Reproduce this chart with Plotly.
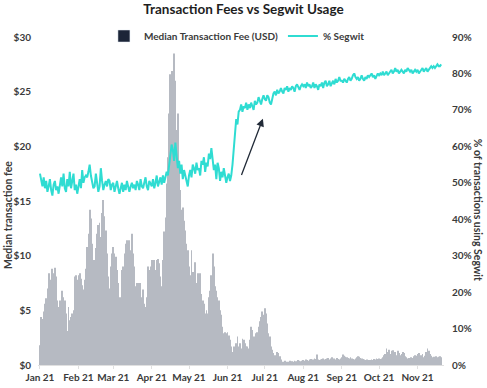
import pandas as pd
import plotly.graph_objects as go

# ---------------- data ----------------
start_date = "2021-01-01"

fee_jan = [1.8, 4.4, 4.2, 4.9, 5.6, 6.1, 7.0, 8.4, 7.2, 7.8, 8.8, 8.4, 8.9, 8.1, 5.9, 5.3,
           5.9, 5.6, 6.8, 6.2, 5.9, 4.7, 3.1, 5.3, 4.1, 4.4, 4.7, 5.0, 8.1, 8.2, 7.8]
fee_feb = [8.2, 8.4, 7.9, 7.3, 6.9, 7.8, 8.8, 10.8, 12.0, 14.2, 13.4, 11.1, 9.6, 9.6,
           10.7, 12.0, 12.8, 13.0, 11.7, 13.9, 15.1, 13.6, 12.3, 10.2, 8.1, 7.0, 9.0, 10.2]
fee_mar = [10.8, 10.2, 9.9, 8.7, 7.5, 6.2, 6.2, 8.7, 9.0, 10.2, 11.1, 11.4, 10.2, 11.4,
           10.5, 12.0, 10.2, 9.0, 7.2, 7.5, 6.6, 7.5, 7.5, 6.2, 6.9, 5.6, 5.3, 6.2, 9.0, 8.7, 9.0]
fee_apr = [9.6, 9.3, 9.6, 8.7, 9.6, 9.7, 9.3, 8.1, 7.2, 9.6, 12.2, 13.5, 16.6, 19.0, 23.0,
           26.6, 26.9, 22.0, 28.5, 26.0, 21.5, 23.0, 17.8, 16.0, 14.2, 14.4, 13.2, 12.3, 11.1, 10.5]
fee_may = [9.0, 8.2, 10.5, 8.5, 8.1, 9.4, 7.5, 8.4, 8.1, 8.4, 6.5, 5.9, 5.6, 4.7, 5.0, 4.7,
           6.2, 6.8, 8.2, 10.2, 9.0, 7.2, 6.8, 6.2, 5.9, 5.0, 4.6, 3.5, 2.9, 3.0, 2.9]
fee_jun = [3.0, 2.7, 2.3, 1.7, 1.2, 1.7, 1.2, 2.0, 2.6, 1.7, 2.0, 1.5, 2.4, 2.3, 2.0, 1.7,
           1.7, 1.5, 2.3, 3.5, 3.2, 2.6, 2.3, 2.9, 3.0, 3.5, 4.0, 4.4, 4.9, 4.6]
fee_jul = [5.2, 4.7, 3.8, 2.9, 2.6, 1.7, 1.4, 1.1, 0.9, 0.8, 1.2, 1.1, 0.8, 0.5, 0.3, 0.3,
           0.4, 0.3, 0.25, 0.3, 0.4, 0.3, 0.35, 0.3, 0.4, 0.35, 0.3, 0.45, 0.4, 0.35, 0.4]
fee_aug = [0.45, 0.4, 0.5, 0.45, 0.4, 0.5, 0.55, 0.45, 0.5, 0.6, 0.55, 0.95, 0.5, 0.45, 0.5,
           0.55, 0.6, 0.5, 0.55, 0.6, 0.65, 0.5, 0.6, 0.7, 0.55, 0.6, 0.5, 0.65, 0.55, 0.5, 0.6]
fee_sep = [0.7, 0.95, 0.85, 0.75, 0.7, 0.65, 0.6, 0.7, 0.6, 0.55, 0.5, 0.6, 0.7, 0.8, 0.75,
           0.65, 0.6, 0.55, 0.5, 0.45, 0.5, 0.45, 0.4, 0.45, 0.5, 0.45, 0.55, 0.5, 0.6, 0.55]
fee_oct = [0.6, 0.55, 0.6, 0.7, 0.9, 1.0, 1.5, 1.2, 1.4, 1.0, 1.3, 1.35, 1.1, 1.2, 0.9, 1.3,
           1.1, 0.9, 1.0, 1.2, 1.1, 0.8, 0.7, 0.6, 0.65, 0.6, 0.7, 0.65, 0.8, 0.9, 0.85]
fee_nov = [1.0, 1.1, 0.8, 0.9, 1.0, 0.7, 0.85, 1.2, 1.5, 1.3, 1.0, 0.85, 0.7, 0.75, 0.7,
           0.8, 0.7, 0.75, 0.8, 0.7]

sw_jan = [52.5, 50.0, 49.0, 51.5, 48.5, 50.5, 47.5, 49.0, 51.0, 48.0, 46.5, 49.5, 50.5, 48.0,
          49.0, 47.0, 50.0, 51.5, 49.0, 52.5, 48.5, 47.5, 51.0, 49.0, 53.0, 48.5, 50.5, 52.5,
          48.0, 49.5, 47.0]
sw_feb = [49.5, 51.0, 48.5, 53.5, 50.0, 51.5, 52.0, 51.5, 53.0, 55.0, 52.0, 50.0, 48.5, 49.0,
          52.5, 50.0, 47.5, 49.0, 54.0, 50.5, 48.0, 49.5, 50.5, 49.0, 51.0, 50.5, 48.0, 49.5]
sw_mar = [50.0, 47.5, 49.0, 50.5, 48.5, 47.0, 48.5, 50.0, 47.5, 49.5, 48.0, 50.5, 49.0, 47.5,
          49.0, 50.0, 48.5, 49.5, 48.0, 50.5, 49.5, 48.0, 51.0, 49.0, 48.5, 50.0, 51.5, 49.0,
          48.0, 50.5, 49.5]
sw_apr = [49.0, 51.0, 48.5, 50.0, 52.0, 49.0, 50.5, 51.5, 49.5, 52.0, 50.0, 51.5, 53.0, 52.0,
          55.0, 58.5, 60.5, 59.0, 56.0, 61.0, 57.5, 54.0, 56.0, 52.5, 55.0, 51.0, 53.5, 52.0,
          50.5, 49.0]
sw_may = [52.0, 53.5, 51.5, 55.0, 54.0, 52.5, 55.5, 53.5, 54.0, 52.0, 56.0, 55.0, 57.0, 53.0,
          55.5, 54.5, 58.0, 56.5, 59.5, 57.0, 53.5, 55.0, 51.0, 55.5, 54.0, 50.5, 53.0, 51.5,
          54.0, 52.0, 50.0]
sw_jun = [51.5, 52.5, 50.5, 52.0, 55.0, 60.0, 64.0, 67.5, 66.0, 69.5, 70.0, 71.5, 69.5, 71.0,
          70.5, 72.0, 70.0, 71.5, 70.5, 72.0, 71.0, 70.0, 72.5, 71.5, 72.0, 73.5, 72.5, 71.5,
          73.0, 74.0]
sw_jul = [73.0, 72.5, 74.0, 73.5, 72.0, 71.5, 73.0, 74.5, 75.0, 74.0, 75.5, 74.5, 75.0, 76.0,
          75.0, 74.5, 76.0, 75.5, 76.5, 75.0, 76.0, 75.5, 76.5, 76.0, 75.0, 76.5, 77.0, 76.0,
          75.5, 76.5, 77.0]
sw_aug = [76.5, 77.0, 76.0, 77.5, 76.5, 77.0, 76.0, 76.5, 77.5, 76.0, 77.0, 76.5, 75.5, 77.0,
          76.5, 77.5, 76.0, 77.5, 78.0, 76.5, 77.0, 78.0, 76.5, 77.5, 78.0, 77.0, 78.5, 77.5,
          78.0, 79.0, 78.0]
sw_sep = [78.0, 77.5, 78.5, 78.0, 77.5, 78.5, 79.0, 78.0, 78.5, 79.5, 80.0, 79.0, 78.5, 79.0,
          78.0, 78.5, 79.5, 78.5, 78.0, 79.0, 78.5, 79.5, 79.0, 79.5, 80.0, 79.0, 79.5, 78.5,
          79.5, 80.0]
sw_oct = [79.5, 80.0, 79.5, 80.5, 79.5, 80.0, 80.5, 79.5, 80.0, 80.5, 81.0, 80.0, 80.5, 81.5,
          80.5, 81.0, 80.0, 80.5, 81.0, 80.5, 80.0, 81.0, 80.5, 81.5, 81.0, 80.5, 81.0, 80.0,
          80.5, 81.0, 80.5]
sw_nov = [81.0, 80.0, 80.5, 81.0, 81.5, 80.5, 81.0, 81.5, 80.5, 81.0, 81.5, 82.0, 81.5, 82.0,
          81.5, 82.0, 82.5, 82.0, 82.0, 82.5]

fee_tickvals = [0, 5, 10, 15, 20, 25, 30]
fee_ticktext = ["$0", "$5", "$10", "$15", "$20", "$25", "$30"]
sw_tickvals = [0, 10, 20, 30, 40, 50, 60, 70, 80, 90]
sw_ticktext = ["0%", "10%", "20%", "30%", "40%", "50%", "60%", "70%", "80%", "90%"]
month_ticks = ["2021-01-01", "2021-02-01", "2021-03-01", "2021-04-01", "2021-05-01",
               "2021-06-01", "2021-07-01", "2021-08-01", "2021-09-01", "2021-10-01",
               "2021-11-01"]
month_labels = ["Jan 21", "Feb 21", "Mar 21", "Apr 21", "May 21", "Jun 21", "Jul 21",
                "Aug 21", "Sep 21", "Oct 21", "Nov 21"]

arrow_tail = ("2021-06-11 19:00", 51.7)
arrow_head = ("2021-06-29 12:00", 67.6)

fees = (fee_jan + fee_feb + fee_mar + fee_apr + fee_may + fee_jun + fee_jul + fee_aug
        + fee_sep + fee_oct + fee_nov)
segwit = (sw_jan + sw_feb + sw_mar + sw_apr + sw_may + sw_jun + sw_jul + sw_aug
          + sw_sep + sw_oct + sw_nov)
dates = pd.date_range(start_date, periods=len(fees), freq="D")

# ---------------- figure ----------------
FONT = "Lato"
TXT = "#3b3b3b"
BAR = "#b6bac2"
LINE = "#2fdcd2"
NAVY = "#1c2538"

fig = go.Figure()
fig.add_trace(go.Bar(x=dates, y=fees, marker=dict(color=BAR, line=dict(width=0)),
                     showlegend=False, name="Median Transaction Fee (USD)"))
fig.add_trace(go.Bar(x=[None], y=[None], marker=dict(color=NAVY),
                     name="Median Transaction Fee (USD)"))
fig.add_trace(go.Scatter(x=dates, y=segwit, mode="lines", yaxis="y2",
                         line=dict(color=LINE, width=2), name="% Segwit"))

fig.add_annotation(x=arrow_head[0], y=arrow_head[1], xref="x", yref="y2",
                   ax=arrow_tail[0], ay=arrow_tail[1], axref="x", ayref="y2",
                   text="", showarrow=True, arrowhead=2, arrowsize=1.2,
                   arrowwidth=1.3, arrowcolor="#222b38")

fig.add_annotation(text="Median transaction fee", xref="paper", yref="paper",
                   x=-0.074, y=0.457, xanchor="center", yanchor="middle",
                   textangle=-90, showarrow=False,
                   font=dict(family=FONT, size=10.5, color=TXT, weight="bold"))
fig.add_annotation(text="% of transactions using Segwit", xref="paper", yref="paper",
                   x=1.084, y=0.473, xanchor="center", yanchor="middle",
                   textangle=90, showarrow=False,
                   font=dict(family=FONT, size=10.5, color=TXT, weight="bold"))

fig.update_layout(
    width=487, height=388,
    margin=dict(l=38, r=43, t=37, b=23, autoexpand=False),
    paper_bgcolor="white", plot_bgcolor="white",
    font=dict(family=FONT, size=10, color=TXT),
    title=dict(text="<b>Transaction Fees vs Segwit Usage</b>", x=0.5, xanchor="center",
               y=0.975, yanchor="middle",
               font=dict(family=FONT, size=13.5, color="#1e1e1e")),
    bargap=0.35,
    showlegend=True,
    legend=dict(orientation="h", x=0.49, xanchor="center",
                yref="container", y=1 - 36 / 388, yanchor="middle",
                bgcolor="rgba(0,0,0,0)", font=dict(family=FONT, size=10, color=TXT,
                                                   weight="bold"),
                itemwidth=30, tracegroupgap=0),
    xaxis=dict(type="date", range=["2020-12-30 10:00", "2021-11-22 07:00"],
               tickvals=month_ticks, ticktext=month_labels, showgrid=False,
               showline=True, linecolor="#e0e0e0", linewidth=1,
               ticks="outside", ticklen=3, tickcolor="#e0e0e0", automargin=False,
               tickfont=dict(family=FONT, size=10, color=TXT, weight="bold"),
               zeroline=False, fixedrange=True),
    yaxis=dict(range=[0, 30], tickvals=fee_tickvals, ticktext=fee_ticktext,
               showgrid=False, zeroline=False, showline=False, automargin=False,
               ticklabelstandoff=6,
               tickfont=dict(family=FONT, size=10, color=TXT, weight="bold")),
    yaxis2=dict(range=[0, 90], tickvals=sw_tickvals, ticktext=sw_ticktext,
                overlaying="y", side="right", showgrid=False, zeroline=False,
                showline=False, ticklabelstandoff=7, automargin=False,
                tickfont=dict(family=FONT, size=10, color=TXT, weight="bold")),
)

fig.write_html("out.html", config={"displayModeBar": False},
               post_script="document.body.style.margin='0';document.body.style.padding='0';")
